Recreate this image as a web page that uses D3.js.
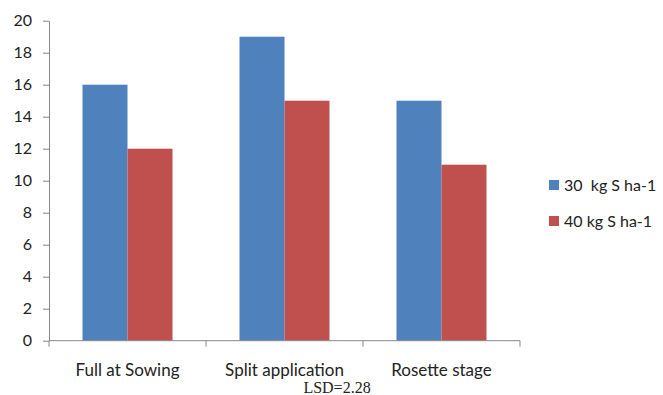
<!DOCTYPE html>
<html>
<head>
<meta charset="utf-8">
<script src="https://cdn.jsdelivr.net/npm/d3@7"></script>
<style>
  html, body { margin: 0; padding: 0; background: #fff; }
  svg { display: block; }
  text { font-family: "Lato", "Open Sans", sans-serif; fill: #222; }
</style>
</head>
<body>
<svg id="chart" width="663" height="395"></svg>
<script>
// Sulphur application timing vs response at two S rates
const categories = ["Full at Sowing", "Split application", "Rosette stage"];
const seriesNames = ["30  kg S ha-1", "40 kg S ha-1"];
const series30 = [16, 19, 15];
const series40 = [12, 15, 11];
const yTicks = [0, 2, 4, 6, 8, 10, 12, 14, 16, 18, 20];
const colors = ["#4F81BD", "#C0504D"];
const lsdLabel = "LSD=2.28";

const svg = d3.select("#chart");
const plot = { left: 49, right: 520, top: 20.7, bottom: 340.7 };
const fontSize = "16px";

const x = d3.scaleBand().domain(categories).range([plot.left, plot.right]).padding(0);
const inner = d3.scaleBand().domain(seriesNames)
  .range([0, x.bandwidth()]).paddingInner(0).paddingOuter(0.745);
const y = d3.scaleLinear().domain([0, 20]).range([plot.bottom, plot.top]);

const rows = categories.map((c, i) => ({ cat: c, vals: [series30[i], series40[i]] }));

// bars
const groups = svg.append("g").selectAll("g").data(rows).join("g")
  .attr("transform", d => `translate(${x(d.cat)},0)`);
groups.selectAll("rect")
  .data(d => d.vals.map((v, j) => ({ name: seriesNames[j], v, j })))
  .join("rect")
  .attr("x", d => inner(d.name))
  .attr("width", inner.bandwidth())
  .attr("y", d => y(d.v))
  .attr("height", d => y(0) - y(d.v))
  .attr("fill", d => colors[d.j]);

// y axis
const yAxis = svg.append("g")
  .attr("transform", `translate(${plot.left},0)`)
  .call(d3.axisLeft(y).tickValues(yTicks).tickSize(6).tickPadding(11).tickSizeOuter(0));
yAxis.select(".domain").attr("stroke", "#888");
yAxis.selectAll(".tick line").attr("stroke", "#888");
yAxis.selectAll("text").style("font-size", fontSize).attr("fill", "#222")
  .style("font-family", "Lato, 'Open Sans', sans-serif");

// x axis with tick marks at band boundaries
const xAxis = svg.append("g").attr("transform", `translate(0,${plot.bottom})`);
xAxis.append("line").attr("x1", plot.left).attr("x2", plot.right)
  .attr("y1", 0).attr("y2", 0).attr("stroke", "#888");
const bounds = categories.map(c => x(c)).concat([x(categories[categories.length - 1]) + x.bandwidth()]);
xAxis.selectAll("line.tk").data(bounds).join("line").attr("class", "tk")
  .attr("x1", d => d).attr("x2", d => d).attr("y1", 0).attr("y2", 6).attr("stroke", "#888");
xAxis.selectAll("text.cat").data(categories).join("text").attr("class", "cat")
  .attr("x", d => x(d) + x.bandwidth() / 2)
  .attr("y", 35)
  .attr("text-anchor", "middle")
  .style("font-size", "17px")
  .text(d => d);

// legend
const legend = svg.append("g").attr("transform", "translate(549,180)");
const li = legend.selectAll("g").data(seriesNames).join("g")
  .attr("transform", (d, i) => `translate(0,${i * 36})`);
li.append("rect").attr("width", 10).attr("height", 10).attr("fill", (d, i) => colors[i]);
li.append("text").attr("x", 15).attr("y", 11).style("font-size", fontSize)
  .style("white-space", "pre").attr("xml:space", "preserve").text(d => d);

// LSD note
svg.append("text")
  .attr("x", 337).attr("y", 393)
  .attr("text-anchor", "middle")
  .style("font-family", "'Liberation Serif', 'DejaVu Serif', serif")
  .style("font-size", "16px")
  .text(lsdLabel);
</script>
</body>
</html>
